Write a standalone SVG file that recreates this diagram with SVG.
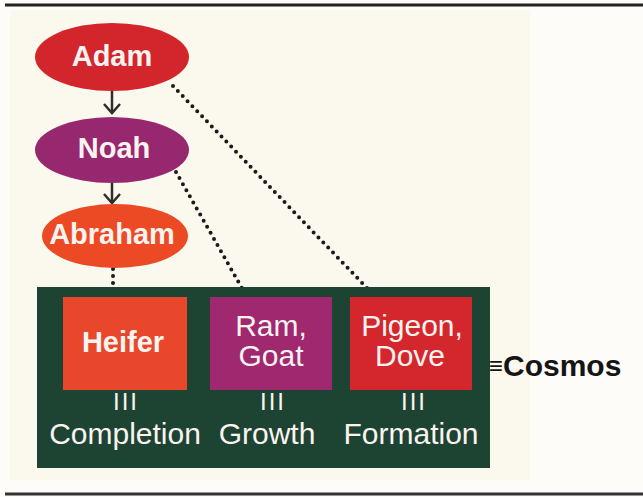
<svg xmlns="http://www.w3.org/2000/svg" width="643" height="497" viewBox="0 0 643 497">
<defs>
<style>
.lbl{font-family:"Liberation Sans",Arial,sans-serif;fill:#fbf3f0;text-anchor:middle}
.b{font-weight:bold;font-size:29px}
.r{font-size:30px}
.iii{font-size:24px;letter-spacing:2px}
.dot{stroke:#1a1a1a;stroke-width:4;stroke-linecap:round;stroke-dasharray:0 7;fill:none}
.arr{stroke:#2e2e2e;stroke-width:2.5;fill:none;stroke-linejoin:miter}
</style>
</defs>
<rect x="0" y="0" width="643" height="497" fill="#fdfcf8"/>
<rect x="10" y="10" width="520" height="470" fill="#fbf8ee"/>
<line x1="5" y1="5" x2="643" y2="5" stroke="#222" stroke-width="3"/>
<line x1="5" y1="494" x2="643" y2="494" stroke="#333" stroke-width="3"/>

<g id="connectors">
<line class="arr" x1="112" y1="91" x2="112" y2="113"/>
<path class="arr" d="M104,104 L112,113 L120,104"/>
<line class="arr" x1="112" y1="183" x2="112" y2="203"/>
<path class="arr" d="M104,194 L112,203 L120,194"/>
<line class="dot" x1="173" y1="86" x2="367" y2="288"/>
<line class="dot" x1="176" y1="172" x2="243" y2="290"/>
<line class="dot" x1="113" y1="269" x2="113" y2="290"/>
</g>

<g id="adam">
<ellipse cx="112" cy="57" rx="77" ry="34" fill="#d3262c"/>
<text class="lbl b" x="112" y="66">Adam</text>
</g>
<g id="noah">
<ellipse cx="112" cy="150" rx="77" ry="33" fill="#972870"/>
<text class="lbl b" x="114" y="158">Noah</text>
</g>
<g id="abraham">
<ellipse cx="115" cy="236" rx="73" ry="32" fill="#ec4a24"/>
<text class="lbl b" x="112" y="244">Abraham</text>
</g>

<g id="cosmos-box">
<rect x="37" y="287" width="453" height="181" fill="#1d4433"/>
<text class="lbl iii" x="126" y="410">III</text>
<text class="lbl iii" x="273" y="410">III</text>
<text class="lbl iii" x="414" y="410">III</text>
<text class="lbl r" x="125" y="444">Completion</text>
<text class="lbl r" x="267" y="444">Growth</text>
<text class="lbl r" x="411" y="444">Formation</text>
</g>
<g id="heifer">
<rect x="63" y="297" width="124" height="93" fill="#e9472b"/>
<text class="lbl b" x="123" y="352">Heifer</text>
</g>
<g id="ram-goat">
<rect x="210" y="297" width="122" height="93" fill="#a0286f"/>
<text class="lbl r" x="271" y="336">Ram,</text>
<text class="lbl r" x="271" y="366">Goat</text>
</g>
<g id="pigeon-dove">
<rect x="350" y="297" width="122" height="93" fill="#d4272d"/>
<text class="lbl r" x="412" y="336">Pigeon,</text>
<text class="lbl r" x="410" y="366">Dove</text>
</g>
<g id="cosmos-label">
<text x="489" y="376" style="font-family:'Liberation Sans',Arial,sans-serif;fill:#151515"><tspan style="font-size:24px" dy="-2">≡</tspan><tspan style="font-size:30px;font-weight:bold" dy="2">Cosmos</tspan></text>
</g>
</svg>
